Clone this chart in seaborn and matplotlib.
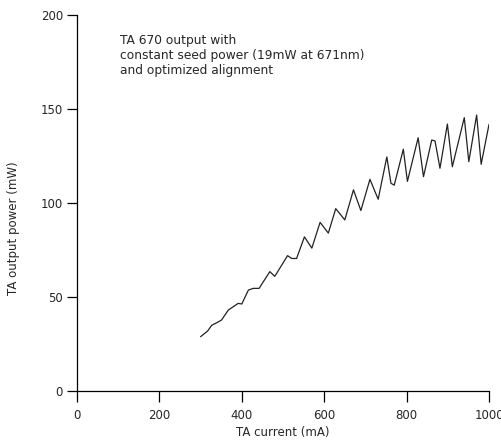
# TA 670 output power vs current

import pandas as pd
import seaborn as sns
import matplotlib.pyplot as plt

# Data
current = [300, 317, 327, 339, 351, 367, 379, 391, 400, 416, 428, 442, 456, 468,
           480, 497, 511, 521, 533, 552, 570, 590, 610, 628, 650, 671, 689, 711,
           731, 752, 762, 770, 792, 802, 828, 841, 861, 869, 881, 899, 911, 940,
           951, 970, 981, 1000]
power = [28.9, 31.9, 35.0, 36.3, 37.8, 43.0, 44.8, 46.6, 46.3, 53.7, 54.6, 54.6,
         59.4, 63.5, 61.0, 67.0, 72.0, 70.5, 70.5, 82.0, 76.0, 89.7, 84.0, 97.0,
         91.0, 107.0, 96.0, 112.6, 102.0, 124.5, 110.5, 109.5, 128.6, 111.5,
         134.7, 114.0, 133.5, 133.0, 118.5, 142.0, 119.3, 145.4, 122.0, 146.8,
         120.6, 141.8]
x_ticks = [0, 200, 400, 600, 800, 1000]
y_ticks = [0, 50, 100, 150, 200]

df = pd.DataFrame({"current": current, "power": power})

sns.set_style("ticks")
plt.rcParams["font.family"] = ["DejaVu Sans"]

fig = plt.figure(figsize=(5.02, 4.45), dpi=100)
ax = fig.add_axes([0.1534, 0.1213, 0.8207, 0.845])

sns.lineplot(x="current", y="power", data=df, ax=ax, color="#222222",
             linewidth=0.9, sort=False)

ax.set_xlim(0, 1000)
ax.set_ylim(0, 200)
ax.set_xticks(x_ticks)
ax.set_yticks(y_ticks)
ax.tick_params(labelsize=8.5, width=0.9, color="black")
ax.tick_params(axis="x", length=8, pad=5)
ax.tick_params(axis="y", length=7, pad=3)
ax.set_xlabel("TA current (mA)", fontsize=8.5, labelpad=3)
ax.set_ylabel("TA output power (mW)", fontsize=8.5)
ax.yaxis.set_label_coords(-0.138, 0.434)
sns.despine(ax=ax)
for side in ["left", "bottom"]:
    ax.spines[side].set_color("black")
    ax.spines[side].set_linewidth(0.9)

ax.text(104, 190, "TA 670 output with\nconstant seed power (19mW at 671nm)\nand optimized alignment",
        fontsize=8.8, va="top", ha="left", linespacing=1.2)

plt.savefig("out.png", dpi=100)
